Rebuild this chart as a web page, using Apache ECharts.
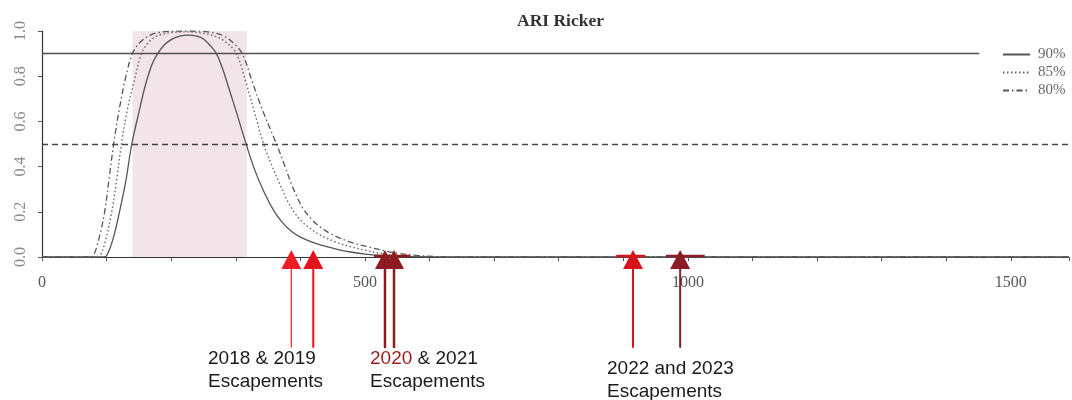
<!DOCTYPE html>
<html>
<head>
<meta charset="utf-8">
<script src="https://cdn.jsdelivr.net/npm/echarts@6/dist/echarts.min.js"></script>
<style>
  html, body { margin: 0; padding: 0; background: #ffffff; }
  #chart { width: 1072px; height: 400px; }
</style>
</head>
<body>
<div id="chart"></div>
<script>
// Probability curves (escapement on x, probability on y), one pair of arrays per percentile
const esc90 = [0, 95, 100, 110, 120, 130, 139, 150, 160, 170, 179, 190, 200, 213, 226, 240, 250, 260, 270, 280, 290, 300, 316, 330, 345, 360, 373, 387, 400, 420, 441, 460, 480, 500, 525, 550, 580, 620, 1590];
const prob90 = [0, 0, 0.005, 0.08, 0.2, 0.34, 0.5, 0.64, 0.76, 0.85, 0.9, 0.94, 0.962, 0.977, 0.982, 0.977, 0.965, 0.937, 0.9, 0.83, 0.74, 0.65, 0.5, 0.38, 0.28, 0.2, 0.15, 0.112, 0.088, 0.064, 0.046, 0.032, 0.021, 0.013, 0.007, 0.003, 0.001, 0, 0];

const esc85 = [0, 85, 90, 98, 108, 116, 123, 132, 142, 154, 165, 180, 200, 225, 250, 270, 285, 301, 315, 330, 343, 355, 367, 378, 390, 403, 416, 429, 455, 480, 500, 522, 552, 585, 620, 1590];
const prob85 = [0, 0, 0.005, 0.07, 0.2, 0.35, 0.5, 0.65, 0.77, 0.9, 0.95, 0.98, 0.993, 0.996, 0.99, 0.975, 0.95, 0.9, 0.78, 0.63, 0.5, 0.41, 0.33, 0.26, 0.2, 0.155, 0.125, 0.1, 0.066, 0.044, 0.03, 0.017, 0.006, 0.002, 0, 0];

const esc80 = [0, 72, 79, 88, 97, 104, 111, 120, 130, 140, 152, 170, 195, 230, 260, 280, 295, 310, 325, 340, 363, 375, 388, 403, 418, 433, 449, 475, 506, 530, 552, 580, 610, 640, 1590];
const prob80 = [0, 0, 0.005, 0.08, 0.2, 0.35, 0.5, 0.66, 0.8, 0.9, 0.95, 0.985, 0.998, 1.0, 0.995, 0.98, 0.95, 0.9, 0.78, 0.66, 0.5, 0.41, 0.31, 0.22, 0.165, 0.128, 0.1, 0.068, 0.044, 0.028, 0.016, 0.007, 0.002, 0, 0];

const seriesNames = ['90%', '85%', '80%'];

// Goal range (shaded band) and reference probability levels
const goalRange = [140, 317];
const refLevels = [0.9, 0.5];
const refEnds = [1451, 1590];

// Observed escapements by year
const escYears = ['2018', '2019', '2020', '2021', '2022', '2023'];
const escValues = [386, 420, 531, 545, 915, 988];
const escRanges = [[514, 570], [889, 934], [966, 1026]];

// Axis ticks
const xMax = 1590;
const xLabelStep = 500;
const yTicks = [0, 0.2, 0.4, 0.6, 0.8, 1.0];

// Styles
const arrowColors = ['#ee1d24', '#e3131b', '#8e1b1f', '#8e1b1f', '#d5141c', '#8a1c25'];
const arrowWidths = [1.2, 2, 2.5, 2.5, 2, 2];
const rangeColors = ['#8e1b1f', '#d5141c', '#8a1c25'];
const serif = 'Liberation Serif';

const pairs = (xs, ys) => xs.map((x, i) => [x, ys[i]]);

const chart = echarts.init(document.getElementById('chart'), null, { renderer: 'canvas' });

const curveBase = {
  type: 'line',
  showSymbol: false,
  symbol: 'none',
  smooth: 0.35,
  z: 3,
  silent: true
};

chart.setOption({
  animation: false,
  backgroundColor: '#ffffff',
  title: {
    text: 'ARI Ricker',
    left: 512,
    top: 7,
    textStyle: { fontFamily: serif, fontWeight: 'bold', fontSize: 17.5, color: '#333' }
  },
  grid: { left: 42, right: 0, top: 31, bottom: 143 },
  legend: {
    orient: 'vertical',
    left: 997,
    top: 42,
    itemWidth: 27,
    itemHeight: 12,
    itemGap: 3,
    data: seriesNames,
    itemStyle: { opacity: 0 },
    textStyle: { fontFamily: serif, fontSize: 15, color: '#666', padding: [0, 0, 0, 3] }
  },
  xAxis: {
    type: 'value',
    min: 0,
    max: xMax,
    interval: 100,
    axisLine: { show: true, onZero: false, lineStyle: { color: '#333', width: 1.2 } },
    axisTick: { show: true, length: 4, lineStyle: { color: '#555' } },
    axisLabel: {
      margin: 18,
      fontFamily: serif,
      fontSize: 16,
      color: '#555',
      formatter: v => (v % xLabelStep === 0 ? String(v) : '')
    },
    splitLine: { show: false }
  },
  yAxis: {
    type: 'value',
    min: yTicks[0],
    max: yTicks[yTicks.length - 1],
    interval: 0.2,
    axisLine: { show: true, lineStyle: { color: '#333', width: 1.2 } },
    axisTick: { show: true, length: 4, lineStyle: { color: '#555' } },
    axisLabel: {
      rotate: 90,
      margin: 13,
      fontFamily: serif,
      fontSize: 16,
      color: '#8a8a8a',
      formatter: v => v.toFixed(1)
    },
    splitLine: { show: false }
  },
  series: [
    {
      // shaded goal range and reference levels
      type: 'line',
      data: [],
      z: 1,
      silent: true,
      markArea: {
        silent: true,
        itemStyle: { color: '#f2e4e8' },
        data: [[{ xAxis: goalRange[0], yAxis: 0 }, { xAxis: goalRange[1], yAxis: 1 }]]
      },
      markLine: {
        silent: true,
        symbol: 'none',
        label: { show: false },
        data: [
          [{ coord: [0, refLevels[0]], lineStyle: { color: '#505050', width: 1.3, type: 'solid' } },
           { coord: [refEnds[0], refLevels[0]] }],
          [{ coord: [0, refLevels[1]], lineStyle: { color: '#444', width: 1.3, type: [6, 4] } },
           { coord: [refEnds[1], refLevels[1]] }]
        ]
      }
    },
    Object.assign({}, curveBase, {
      name: seriesNames[0],
      data: pairs(esc90, prob90),
      lineStyle: { color: '#555', width: 1.3, type: 'solid' },
      itemStyle: { color: '#555' }
    }),
    Object.assign({}, curveBase, {
      name: seriesNames[1],
      data: pairs(esc85, prob85),
      lineStyle: { color: '#666', width: 1.4, type: [1.5, 2.5] },
      itemStyle: { color: '#666' }
    }),
    Object.assign({}, curveBase, {
      name: seriesNames[2],
      data: pairs(esc80, prob80),
      lineStyle: { color: '#555', width: 1.3, type: [6, 3, 1.5, 3] },
      itemStyle: { color: '#555' }
    }),
    {
      // escapement ranges along the axis
      type: 'custom',
      z: 5,
      silent: true,
      clip: false,
      data: escRanges,
      renderItem: (params, api) => {
        const a = api.coord([api.value(0), 0]);
        const b = api.coord([api.value(1), 0]);
        return {
          type: 'line',
          shape: { x1: a[0], y1: a[1] - 1, x2: b[0], y2: b[1] - 1 },
          style: { stroke: rangeColors[params.dataIndex], lineWidth: 2.5 }
        };
      }
    },
    {
      // yearly escapement arrows
      type: 'custom',
      z: 6,
      silent: true,
      clip: false,
      data: escValues.map((v, i) => [v, escYears[i]]),
      renderItem: (params, api) => {
        const i = params.dataIndex;
        const p = api.coord([api.value(0), 0]);
        const c = arrowColors[i];
        return {
          type: 'group',
          children: [
            {
              type: 'line',
              shape: { x1: p[0], y1: p[1] + 10, x2: p[0], y2: p[1] + 90 },
              style: { stroke: c, lineWidth: arrowWidths[i], lineCap: 'round' }
            },
            {
              type: 'polygon',
              shape: { points: [[p[0], p[1] - 7], [p[0] - 10, p[1] + 12], [p[0] + 10, p[1] + 12]] },
              style: { fill: c }
            }
          ]
        };
      }
    }
  ],
  graphic: [
    {
      type: 'text', left: 208, top: 347,
      style: { text: '2018 & 2019\nEscapements', font: '19px "Liberation Sans"', fill: '#1a1a1a', lineHeight: 23 }
    },
    {
      type: 'text', left: 370, top: 347,
      style: {
        text: '{r|2020} & 2021\nEscapements',
        font: '19px "Liberation Sans"', fill: '#1a1a1a', lineHeight: 23,
        rich: { r: { fill: '#9b1b1b', font: '19px "Liberation Sans"', lineHeight: 23 } }
      }
    },
    {
      type: 'text', left: 607, top: 357,
      style: { text: '2022 and 2023\nEscapements', font: '19px "Liberation Sans"', fill: '#1a1a1a', lineHeight: 23 }
    }
  ]
});
</script>
</body>
</html>
